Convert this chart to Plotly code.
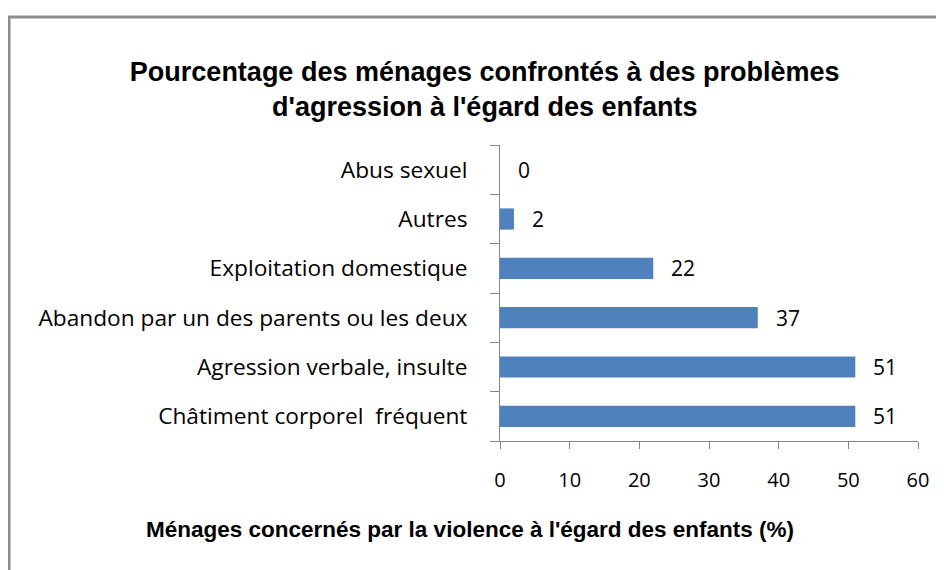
import plotly.graph_objects as go

# catégories (de bas en haut) et pourcentages
categories = [
    "Châtiment corporel  fréquent",
    "Agression verbale, insulte",
    "Abandon par un des parents ou les deux",
    "Exploitation domestique",
    "Autres",
    "Abus sexuel",
]
valeurs = [51, 51, 37, 22, 2, 0]
x_ticks = [0, 10, 20, 30, 40, 50, 60]

BLEU = "#4F81BD"
GRIS = "#868686"
POLICE = "Open Sans, sans-serif"
POLICE_TITRE = "Liberation Sans, sans-serif"

fig = go.Figure()
fig.add_trace(go.Bar(
    x=valeurs, y=categories, orientation="h",
    marker=dict(color=BLEU, line=dict(width=0)),
    width=0.43, hoverinfo="x+y",
))

# étiquettes de valeurs
for v, c in zip(valeurs, categories):
    fig.add_annotation(x=v, y=c, text=str(v), showarrow=False,
                       xanchor="left", xshift=16,
                       font=dict(family=POLICE, size=21, color="black"))

# titre de l'axe horizontal (centré comme dans l'original)
fig.add_annotation(
    text="<b>Ménages concernés par la violence à l'égard des enfants (%)</b>",
    xref="paper", yref="paper", x=-0.072, y=-0.30, xanchor="center", yanchor="middle",
    showarrow=False, font=dict(family=POLICE_TITRE, size=22.5, color="black"),
)

fig.update_layout(
    width=944, height=570, autosize=False,
    margin=dict(l=492, r=34, t=137, b=137),
    paper_bgcolor="white", plot_bgcolor="white",
    showlegend=False,
    font=dict(family=POLICE, color="black"),
    title=dict(
        text="<b>Pourcentage des ménages confrontés à des problèmes<br>d'agression à l'égard des enfants</b>",
        x=0.505, xanchor="center", xref="container",
        y=0.872, yanchor="top", yref="container",
        font=dict(family=POLICE_TITRE, size=27, color="black"),
    ),
    xaxis=dict(
        range=[0, 60], tickvals=x_ticks, showgrid=False, zeroline=False,
        showline=True, linecolor=GRIS, linewidth=1, automargin=False,
        ticks="outside", ticklen=7, tickcolor=GRIS,
        tickfont=dict(size=20), ticklabelstandoff=14,
    ),
    yaxis=dict(
        showgrid=False, zeroline=False, automargin=False,
        showline=True, linecolor=GRIS, linewidth=1,
        ticks="outside", ticklen=9, tickcolor=GRIS,
        tickson="boundaries",
        tickfont=dict(size=22.7), ticklabelstandoff=27,
    ),
)

# cadre gris du graphique
fig.add_shape(type="rect", xref="paper", yref="paper",
              x0=-1.1746, x1=1.2, y0=-0.5, y1=1.4324,
              line=dict(color="#8C8C8C", width=3), fillcolor="rgba(0,0,0,0)")

fig.write_html("out.html")
